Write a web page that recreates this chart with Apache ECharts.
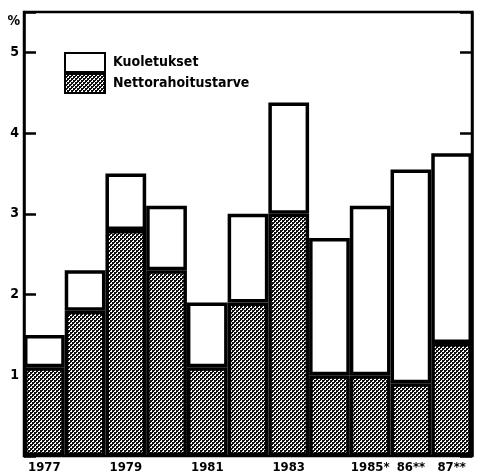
<!DOCTYPE html>
<html><head><meta charset="utf-8">
<script src="https://cdn.jsdelivr.net/npm/echarts@6/dist/echarts.min.js"></script>
<style>html,body{margin:0;padding:0;background:#fff}#c{width:479px;height:475px}</style>
</head><body><div id="c"></div>
<script>
const categories = ["1977","1978","1979","1980","1981","1982","1983","1984","1985*","86**","87**"];
const nettorahoitustarve = [1.1, 1.8, 2.8, 2.3, 1.1, 1.9, 3.0, 1.0, 1.0, 0.9, 1.4];
const kuoletukset = [0.4, 0.5, 0.7, 0.8, 0.8, 1.1, 1.38, 1.7, 2.1, 2.65, 2.35];
const shownLabels = ["1977","1979","1981","1983","1985*","86**","87**"];
const yTicks = [1, 2, 3, 4, 5];

const pc = document.createElement('canvas');
pc.width = 4; pc.height = 4;
const g = pc.getContext('2d');
g.fillStyle = '#111'; g.fillRect(0,0,4,4);
g.fillStyle = '#fff';
g.fillRect(0,0,2,2); g.fillRect(2,2,2,2);
g.fillStyle = '#111';
g.fillRect(0,0,1,1); g.fillRect(2,2,1,1);
const pattern = {image: pc, repeat: 'repeat'};

const font = '"Liberation Sans Narrow","DejaVu Sans Condensed",sans-serif';
const chart = echarts.init(document.getElementById('c'), null, {renderer:'canvas'});
chart.setOption({
  animation: false,
  backgroundColor: '#fff',
  grid: {left: 24, right: 7, top: 12, bottom: 19, show: true, borderColor: '#000', borderWidth: 2.5, containLabel: false},
  legend: {
    left: 64, top: 52, padding: 0, orient: 'vertical', itemGap: 0, itemWidth: 40, itemHeight: 19,
    icon: 'rect',
    data: ['Kuoletukset', 'Nettorahoitustarve'],
    textStyle: {fontFamily: font, fontWeight: 'bold', fontSize: 14, color: '#000', padding: [0,0,0,3]}
  },
  xAxis: {
    type: 'category', data: categories,
    axisLine: {show: false}, axisTick: {show: false},
    axisLabel: {
      interval: 0, margin: 5,
      formatter: v => shownLabels.includes(v) ? v : '',
      fontFamily: font, fontWeight: 'bold', fontSize: 13, color: '#000'
    }
  },
  yAxis: [{
    type: 'value', min: 0, max: 5.5, interval: 1, position: 'left',
    name: '%', nameLocation: 'end', nameGap: -9,
    nameTextStyle: {fontFamily: font, fontWeight: 'bold', fontSize: 14, color: '#000', align: 'right', verticalAlign: 'middle', padding: [0, 4, 0, 0]},
    splitLine: {show: false},
    axisLine: {show: true, lineStyle: {color: '#000', width: 2.5}},
    axisTick: {show: true, inside: true, length: 12, lineStyle: {color: '#000', width: 2.5}},
    axisLabel: {formatter: v => yTicks.includes(v) ? String(v) : '', margin: 5,
      fontFamily: font, fontWeight: 'bold', fontSize: 14, color: '#000'}
  }, {
    type: 'value', min: 0, max: 5.5, interval: 1, position: 'right',
    splitLine: {show: false},
    axisLine: {show: true, lineStyle: {color: '#000', width: 2.5}},
    axisTick: {show: true, inside: true, length: 12, lineStyle: {color: '#000', width: 2.5}},
    axisLabel: {show: false}
  }],
  series: [{
    name: 'Nettorahoitustarve', type: 'bar', stack: 's', data: nettorahoitustarve,
    barCategoryGap: '0%',
    itemStyle: {color: pattern, borderColor: '#000', borderWidth: 3.5}
  }, {
    name: 'Kuoletukset', type: 'bar', stack: 's', data: kuoletukset,
    barCategoryGap: '0%',
    itemStyle: {color: '#fff', borderColor: '#000', borderWidth: 3.5}
  }]
});
</script></body></html>
